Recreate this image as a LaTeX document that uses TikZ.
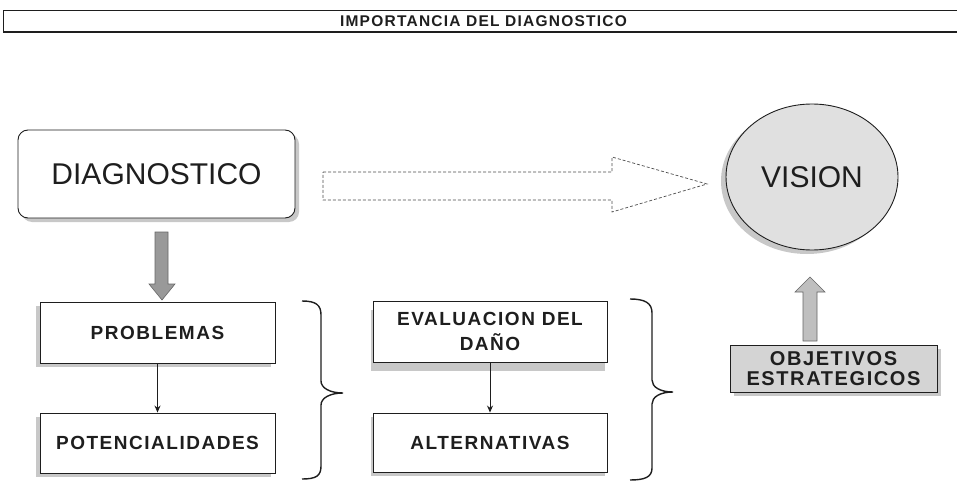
\documentclass[tikz,border=0pt]{standalone}
\usepackage{fontspec}
\setmainfont{Liberation Sans}
\newfontfamily\spacedfont{Liberation Sans}[LetterSpace=8]
\newfontfamily\titlefont{Liberation Sans}[LetterSpace=8]
\usetikzlibrary{shapes.geometric,shadows,arrows.meta}
\definecolor{ink}{HTML}{1E1E1E}
\definecolor{shade}{HTML}{C8C8C8}
\definecolor{lightfill}{HTML}{E0E0E0}
\definecolor{objfill}{HTML}{D4D4D4}
\begin{document}
\begin{tikzpicture}[x=1pt,y=-1pt,
  boxstyle/.style={draw=ink, line width=0.9pt, fill=white, inner sep=0pt, align=center,
     text=ink, font=\spacedfont\bfseries\fontsize{19}{25}\selectfont},
  shadowbl/.style={general shadow={fill=shade, shadow xshift=-4pt, shadow yshift=-4pt}},
  shadowbr/.style={general shadow={fill=shade, shadow xshift=4pt, shadow yshift=-4pt}},
  thinarrow/.style={draw=ink, line width=1pt, -{Stealth[length=7pt,width=6pt]}},
  bracestyle/.style={draw=ink, line width=1.4pt},
  blockarrow/.style={draw=black!60, line width=0.6pt}
]
\useasboundingbox (0,0) rectangle (957,481);

% title
\node[draw=ink, line width=1pt, minimum width=960, minimum height=21, inner sep=0pt,
      anchor=north west, text=ink, font=\titlefont\bfseries\fontsize{15.5}{15.5}\selectfont]
      (title) at (3,10) {IMPORTANCIA DEL DIAGNOSTICO};
\draw[ink, line width=1.6pt] (title.south west) -- (title.south east);

% diagnostico
\node[draw=ink, line width=0.9pt, fill=white, rounded corners=10pt, minimum width=277, minimum height=88,
      shadowbr, text=ink, font=\fontsize{30}{30}\selectfont]
      (diag) at (156.5,174) {DIAGNOSTICO};

% vision
\node[ellipse, draw=ink, line width=0.9pt, fill=lightfill, minimum width=172, minimum height=146,
      inner sep=0pt, general shadow={fill=shade, shadow xshift=-5pt, shadow yshift=-4pt},
      text=ink, font=\fontsize{30}{30}\selectfont]
      (vision) at (812,177) {VISION};

% big dashed arrow
\draw[draw=black!70, line width=0.7pt, dash pattern=on 3pt off 2pt, fill=white]
  (323,172) -- (612,172) -- (612,157) -- (707,184) -- (612,212) -- (612,200) -- (323,200) -- cycle;

% down block arrow
\draw[blockarrow, fill=black!40]
  (155,232) -- (168,232) -- (168,284) -- (175,284) -- (162,300) -- (149,284) -- (155,284) -- cycle;

% left column
\node[boxstyle, shadowbl, minimum width=235, minimum height=61] (prob) at (157.5,332.5) {PROBLEMAS};
\node[boxstyle, shadowbl, minimum width=235, minimum height=60] (pot) at (157.5,443) {POTENCIALIDADES};
\draw[thinarrow] (prob.south) -- (pot.north);

% middle column
\node[boxstyle, general shadow={fill=shade, shadow xshift=-2pt, shadow yshift=-9pt},
      minimum width=234, minimum height=61] (eval) at (490,331.5) {EVALUACION DEL\\DAÑO};
\node[boxstyle, general shadow={fill=shade, shadow xshift=-2pt, shadow yshift=-4pt},
      minimum width=234, minimum height=59] (alt) at (490,442.5) {ALTERNATIVAS};
\draw[thinarrow] (eval.south) -- (alt.north);

% braces
\draw[bracestyle] (302,301) .. controls (316,301) and (321,305) .. (321,315) -- (321,381)
  .. controls (321,388) and (330,393) .. (343,393)
  .. controls (330,393) and (321,398) .. (321,405) -- (321,466)
  .. controls (321,476) and (316,479) .. (302,479);
\draw[bracestyle] (630,299) .. controls (645,299) and (652,303) .. (652,313) -- (652,380)
  .. controls (652,387) and (660,392) .. (673,392)
  .. controls (660,392) and (652,397) .. (652,404) -- (652,468)
  .. controls (652,477) and (645,480) .. (630,480);

% objetivos
\node[boxstyle, fill=objfill, general shadow={fill=shade, shadow xshift=4pt, shadow yshift=-4pt},
      minimum width=207, minimum height=47, font=\spacedfont\bfseries\fontsize{20}{20}\selectfont]
      (obj) at (833.5,368.5) {OBJETIVOS\\ESTRATEGICOS};

% up block arrow
\draw[blockarrow, fill=black!25]
  (803,341) -- (803,292) -- (795,292) -- (810,277) -- (825,292) -- (817,292) -- (817,341) -- cycle;
\end{tikzpicture}
\end{document}
